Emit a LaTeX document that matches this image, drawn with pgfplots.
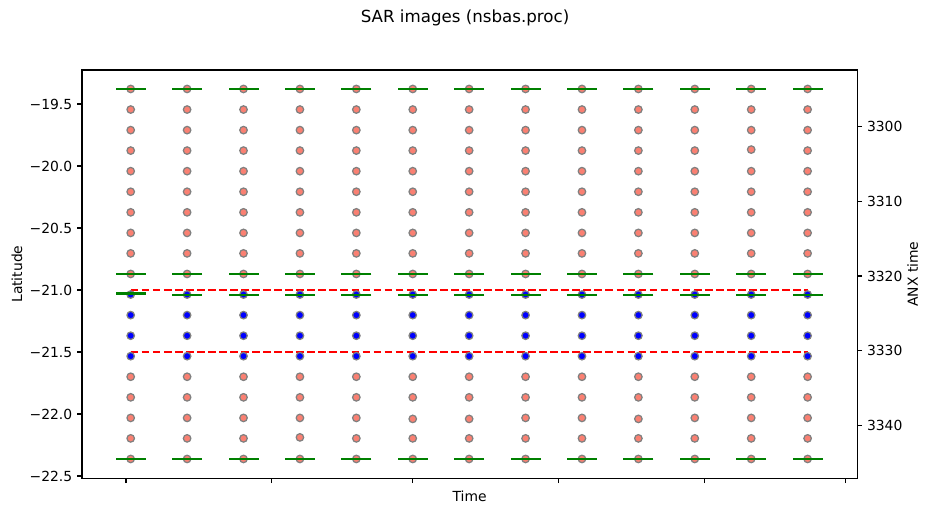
\documentclass[border=0pt]{standalone}
\usepackage{pgfplots}
\pgfplotsset{compat=1.18}
\usepackage{fontspec}
\setmainfont{DejaVu Sans}
\definecolor{salmonc}{HTML}{FA8072}
\definecolor{edgegray}{HTML}{808080}
\definecolor{mplgreen}{HTML}{008000}
\begin{document}
\begin{tikzpicture}
\path[use as bounding box] (-59.04pt,-26.4pt) rectangle (611.3pt,344.4pt);
\pgfplotsset{
  common/.style={
    at={(0pt,0pt)}, anchor=south west,
    scale only axis, width=558.2pt, height=294pt,
    xmin=-9.36, xmax=155.56,
    tick align=outside, major tick length=3.5pt,
    every tick/.style={black, line width=0.8pt},
    axis line style={line width=0.8pt},
    tick label style={font=\fontsize{10}{12}\selectfont},
    label style={font=\fontsize{10}{12}\selectfont},
    /pgf/number format/assume math mode=true,
    clip=false,
  }
}
\begin{axis}[common,
  ymin=-22.519, ymax=-19.226,
  xtick={0,31,61,92,123,153}, xticklabels={},
  xtick pos=bottom, ytick pos=left,
  ytick={-19.5,-20,-20.5,-21,-21.5,-22,-22.5},
  yticklabels={−19.5,−20.0,−20.5,−21.0,−21.5,−22.0,−22.5},
  xlabel={Time},
  xlabel style={at={(axis description cs:0.5,-0.045)}, anchor=center},
  ylabel={Latitude},
  ylabel style={at={(axis description cs:-0.0838,0.5)}, anchor=center},
]
% red (salmon) points
\addplot[only marks, mark=*, mark size=2.7pt, mark options={draw=edgegray, fill=salmonc, line width=0.9pt}] coordinates {
(1,-19.379) (13,-19.379) (25,-19.379) (37,-19.379) (49,-19.379) (61,-19.379) (73,-19.379) (85,-19.379) (97,-19.379) (109,-19.379) (121,-19.379) (133,-19.379) (145,-19.379)
(1,-19.545) (13,-19.545) (25,-19.545) (37,-19.545) (49,-19.545) (61,-19.545) (73,-19.545) (85,-19.545) (97,-19.545) (109,-19.545) (121,-19.545) (133,-19.545) (145,-19.545)
(1,-19.711) (13,-19.711) (25,-19.711) (37,-19.711) (49,-19.711) (61,-19.711) (73,-19.711) (85,-19.711) (97,-19.711) (109,-19.711) (121,-19.711) (133,-19.711) (145,-19.711)
(1,-19.876) (13,-19.876) (25,-19.876) (37,-19.876) (49,-19.876) (61,-19.876) (73,-19.876) (85,-19.876) (97,-19.876) (109,-19.876) (121,-19.876) (133,-19.868) (145,-19.876)
(1,-20.042) (13,-20.042) (25,-20.042) (37,-20.042) (49,-20.042) (61,-20.042) (73,-20.042) (85,-20.042) (97,-20.042) (109,-20.042) (121,-20.042) (133,-20.042) (145,-20.042)
(1,-20.208) (13,-20.208) (25,-20.208) (37,-20.208) (49,-20.208) (61,-20.208) (73,-20.208) (85,-20.208) (97,-20.208) (109,-20.208) (121,-20.208) (133,-20.208) (145,-20.208)
(1,-20.374) (13,-20.374) (25,-20.374) (37,-20.374) (49,-20.374) (61,-20.374) (73,-20.374) (85,-20.374) (97,-20.374) (109,-20.374) (121,-20.374) (133,-20.374) (145,-20.374)
(1,-20.540) (13,-20.540) (25,-20.540) (37,-20.540) (49,-20.540) (61,-20.540) (73,-20.540) (85,-20.540) (97,-20.540) (109,-20.540) (121,-20.540) (133,-20.540) (145,-20.540)
(1,-20.705) (13,-20.705) (25,-20.705) (37,-20.705) (49,-20.705) (61,-20.705) (73,-20.705) (85,-20.705) (97,-20.705) (109,-20.705) (121,-20.705) (133,-20.705) (145,-20.705)
(1,-20.871) (13,-20.871) (25,-20.871) (37,-20.871) (49,-20.871) (61,-20.871) (73,-20.871) (85,-20.871) (97,-20.871) (109,-20.871) (121,-20.871) (133,-20.871) (145,-20.871)
(1,-21.700) (13,-21.700) (25,-21.700) (37,-21.700) (49,-21.700) (61,-21.700) (73,-21.700) (85,-21.700) (97,-21.700) (109,-21.700) (121,-21.700) (133,-21.700) (145,-21.700)
(1,-21.866) (13,-21.866) (25,-21.866) (37,-21.866) (49,-21.866) (61,-21.866) (73,-21.866) (85,-21.866) (97,-21.866) (109,-21.866) (121,-21.866) (133,-21.866) (145,-21.866)
(1,-22.032) (13,-22.032) (25,-22.032) (37,-22.032) (49,-22.032) (61,-22.040) (73,-22.040) (85,-22.032) (97,-22.032) (109,-22.040) (121,-22.032) (133,-22.032) (145,-22.032)
(1,-22.197) (13,-22.197) (25,-22.197) (37,-22.189) (49,-22.197) (61,-22.197) (73,-22.197) (85,-22.197) (97,-22.197) (109,-22.197) (121,-22.197) (133,-22.197) (145,-22.197)
(1,-22.363) (13,-22.363) (25,-22.363) (37,-22.363) (49,-22.363) (61,-22.363) (73,-22.363) (85,-22.363) (97,-22.363) (109,-22.363) (121,-22.363) (133,-22.363) (145,-22.363)
};
% blue points
\addplot[only marks, mark=*, mark size=2.7pt, mark options={draw=edgegray, fill=blue, line width=0.9pt}] coordinates {
(1,-21.037) (13,-21.037) (25,-21.037) (37,-21.037) (49,-21.037) (61,-21.037) (73,-21.037) (85,-21.037) (97,-21.037) (109,-21.037) (121,-21.037) (133,-21.037) (145,-21.037)
(1,-21.203) (13,-21.203) (25,-21.203) (37,-21.203) (49,-21.203) (61,-21.203) (73,-21.203) (85,-21.203) (97,-21.203) (109,-21.203) (121,-21.203) (133,-21.203) (145,-21.203)
(1,-21.369) (13,-21.369) (25,-21.369) (37,-21.369) (49,-21.369) (61,-21.369) (73,-21.369) (85,-21.369) (97,-21.369) (109,-21.369) (121,-21.369) (133,-21.369) (145,-21.369)
(1,-21.534) (13,-21.534) (25,-21.534) (37,-21.534) (49,-21.534) (61,-21.534) (73,-21.534) (85,-21.534) (97,-21.534) (109,-21.534) (121,-21.534) (133,-21.534) (145,-21.534)
};
% red dashed crop lines
\addplot[red, line width=1.5pt, dash pattern=on 5.55pt off 2.4pt] coordinates {(1,-21.0) (145,-21.0)};
\addplot[red, line width=1.5pt, dash pattern=on 5.55pt off 2.4pt] coordinates {(1,-21.5) (145,-21.5)};
\end{axis}
\begin{axis}[common,
  ymin=3292.4, ymax=3347.1, y dir=reverse,
  axis x line=none, axis y line*=right, ytick pos=right,
  ytick={3300,3310,3320,3330,3340},
  yticklabels={3300,3310,3320,3330,3340},
  ylabel={ANX time},
  ylabel style={at={(axis description cs:1.0714,0.5)}, anchor=center},
]
\addplot[only marks, mark=-, mark size=10.8pt, mark options={draw=mplgreen, line width=1.6pt}] coordinates {
(1,3294.95) (13,3294.95) (25,3294.95) (37,3294.95) (49,3294.95) (61,3294.95) (73,3294.95) (85,3294.95) (97,3294.95) (109,3294.95) (121,3294.95) (133,3294.95) (145,3294.95)
(1,3319.73) (13,3319.73) (25,3319.73) (37,3319.73) (49,3319.73) (61,3319.73) (73,3319.73) (85,3319.73) (97,3319.73) (109,3319.73) (121,3319.73) (133,3319.73) (145,3319.73)
(1,3322.35) (13,3322.50) (25,3322.50) (37,3322.50) (49,3322.50) (61,3322.50) (73,3322.50) (85,3322.50) (97,3322.50) (109,3322.50) (121,3322.50) (133,3322.50) (145,3322.50)
(1,3344.52) (13,3344.52) (25,3344.52) (37,3344.52) (49,3344.52) (61,3344.52) (73,3344.52) (85,3344.52) (97,3344.52) (109,3344.52) (121,3344.52) (133,3344.52) (145,3344.52)
};
\end{axis}
\node[font=\fontsize{12}{14}\selectfont] at (275.8pt,331.4pt) {SAR images (nsbas.proc)};
\end{tikzpicture}
\end{document}
